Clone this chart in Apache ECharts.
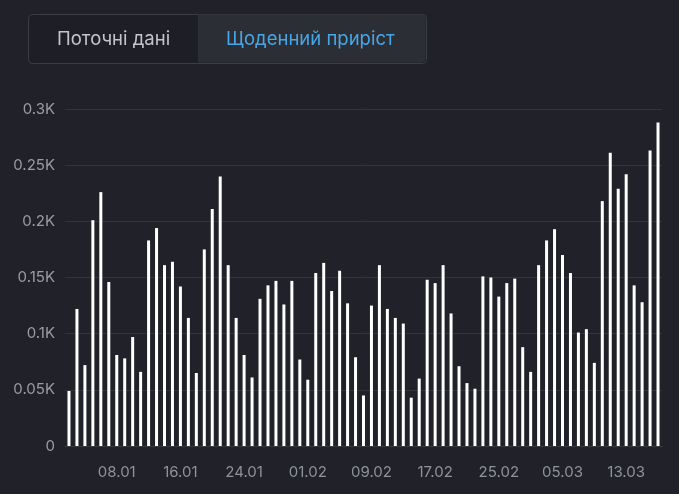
<!DOCTYPE html>
<html>
<head>
<meta charset="utf-8">
<script src="https://cdn.jsdelivr.net/npm/echarts@6/dist/echarts.min.js"></script>
<style>
html,body{margin:0;padding:0;background:#212229;}
#c{width:679px;height:494px;}
</style>
</head>
<body>
<div id="c"></div>
<script>
const categories = [
"02.01","03.01","04.01","05.01","06.01","07.01","08.01","09.01","10.01","11.01","12.01","13.01","14.01","15.01","16.01","17.01","18.01","19.01","20.01","21.01","22.01","23.01","24.01","25.01","26.01","27.01","28.01","29.01","30.01","31.01",
"01.02","02.02","03.02","04.02","05.02","06.02","07.02","08.02","09.02","10.02","11.02","12.02","13.02","14.02","15.02","16.02","17.02","18.02","19.02","20.02","21.02","22.02","23.02","24.02","25.02","26.02","27.02","28.02",
"01.03","02.03","03.03","04.03","05.03","06.03","07.03","08.03","09.03","10.03","11.03","12.03","13.03","14.03","15.03","16.03","17.03"];
const dailyValues = [49,122,72,201,226,146,81,78,97,66,183,194,161,164,142,114,65,175,211,240,161,114,81,61,131,143,147,126,147,77,59,154,163,138,156,127,79,45,125,161,122,114,109,43,60,148,145,161,118,71,56,51,151,150,133,145,149,88,66,161,183,193,170,154,101,104,74,218,261,229,242,143,128,263,288];
const tabLabels = ["Поточні дані", "Щоденний приріст"];

const FONT = 'Inter, Roboto, sans-serif';
const chart = echarts.init(document.getElementById('c'));
chart.setOption({
  backgroundColor: '#212229',
  animation: false,
  grid: {left: 65, right: 17, top: 109, bottom: 48},
  graphic: [
    {type:'rect', left:28, top:14, shape:{width:398, height:49, r:4}, style:{fill:'#1e1f26', stroke:'#3b3c44', lineWidth:1}},
    {type:'rect', left:198, top:14.5, shape:{width:227.5, height:48, r:[0,4,4,0]}, style:{fill:'#2c2e36'}},
    {type:'text', left:57, top:30, style:{text:tabLabels[0], fill:'#c4c5cb', font:'18.5px ' + FONT}},
    {type:'text', left:226, top:30, style:{text:tabLabels[1], fill:'#47a7e6', font:'18.5px ' + FONT}}
  ],
  xAxis: {
    type: 'category',
    data: categories,
    axisLine: {lineStyle: {color: '#3a3b42'}},
    axisTick: {show: false},
    axisLabel: {
      color: '#8f929a', fontSize: 15, margin: 19,
      fontFamily: FONT,
      interval: function (idx) { return (idx - 6) % 8 === 0 && idx >= 6; }
    }
  },
  yAxis: {
    type: 'value',
    min: 0, max: 300, interval: 50,
    axisLine: {show: false},
    axisTick: {show: false},
    splitLine: {lineStyle: {color: '#33343b'}},
    axisLabel: {
      color: '#9a9da4', fontSize: 15, margin: 10,
      fontFamily: FONT,
      formatter: function (v) { return v === 0 ? '0' : (v / 1000) + 'K'; }
    }
  },
  series: [{
    type: 'bar',
    data: dailyValues,
    barWidth: 3,
    itemStyle: {color: '#ffffff'}
  }]
});
</script>
</body>
</html>
